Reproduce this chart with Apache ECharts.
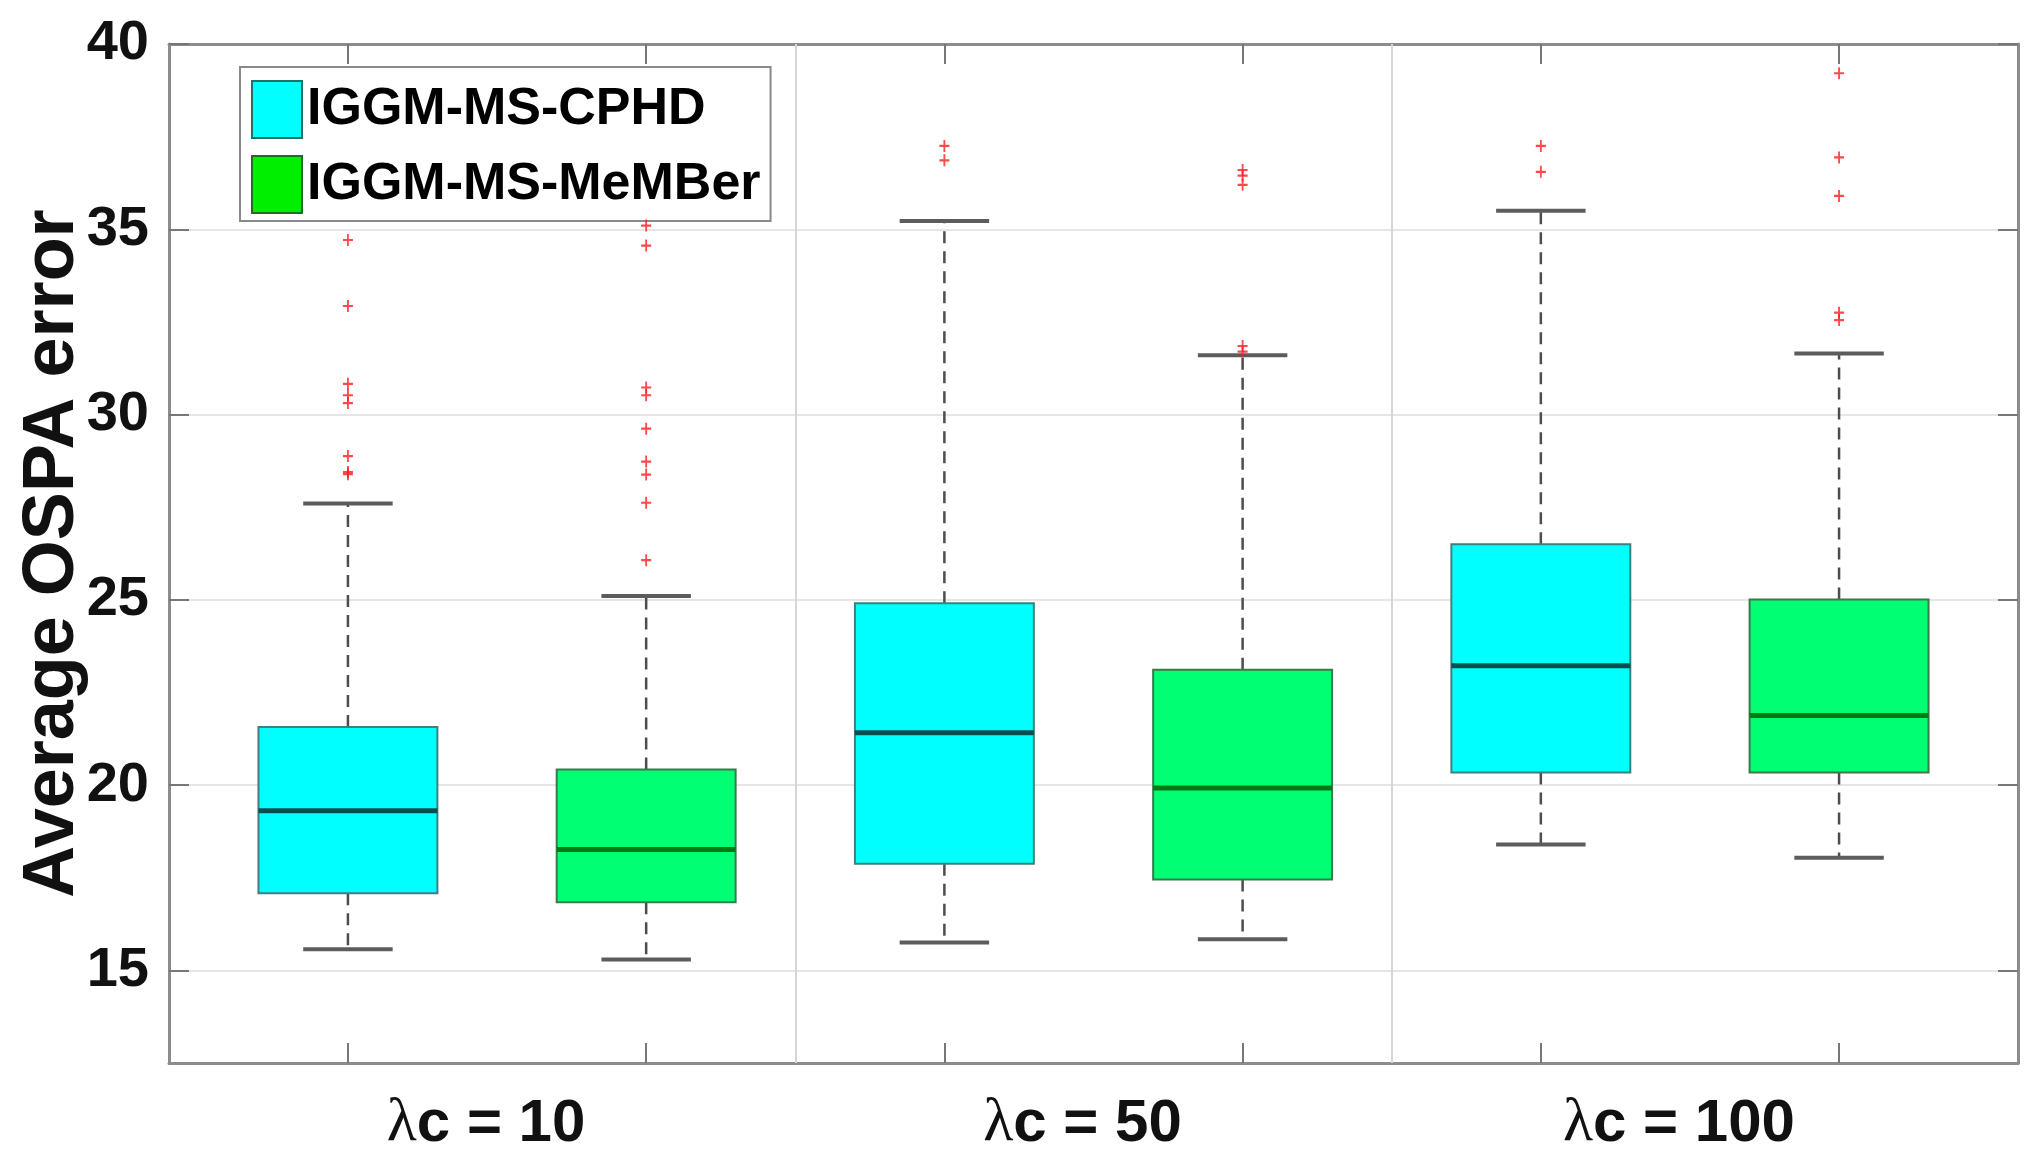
<!DOCTYPE html>
<html>
<head>
<meta charset="utf-8">
<title>Average OSPA error boxplot</title>
<script src="https://cdn.jsdelivr.net/npm/echarts@6/dist/echarts.min.js"></script>
<style>
  html, body { margin: 0; padding: 0; background: #fff; }
  #chart { width: 2041px; height: 1176px; }
</style>
</head>
<body>
<div id="chart"></div>
<script>
// group labels and method names
const groups = ['λc = 10', 'λc = 50', 'λc = 100'];
const methods = ['IGGM-MS-CPHD', 'IGGM-MS-MeMBer'];

// box positions on the x axis
const cphdPos = [1, 3, 5];
const memberPos = [2, 4, 6];
const groupCenters = [1.5, 3.5, 5.5];
const separators = [2.5, 4.5];

// [lower whisker, Q1, median, Q3, upper whisker] per group
const cphdStats = [
  [15.57, 17.08, 19.31, 21.57, 27.6],
  [15.75, 17.88, 21.41, 24.91, 35.22],
  [18.40, 20.34, 23.22, 26.50, 35.5]
];
const memberStats = [
  [15.29, 16.84, 18.26, 20.42, 25.1],
  [15.84, 17.45, 19.92, 23.11, 31.6],
  [18.04, 20.34, 21.88, 25.01, 31.65]
];

// outliers per group
const cphdOutliers = [
  [34.71, 32.93, 30.83, 30.52, 30.31, 28.88, 28.45, 28.39],
  [37.25, 36.86],
  [37.25, 36.55]
];
const memberOutliers = [
  [35.1, 34.56, 30.73, 30.52, 29.62, 28.73, 28.38, 27.62, 26.07],
  [36.6, 36.45, 36.2, 31.85, 31.7],
  [39.21, 36.94, 35.9, 32.75, 32.55]
];

const yTicks = [15, 20, 25, 30, 35, 40];

// ---- build data for the library ----
function boxData(pos, stats) {
  return stats.map((s, i) => [pos[i]].concat(s));
}
function outlierData(pos, outs) {
  const res = [];
  outs.forEach((list, i) => list.forEach(v => res.push([pos[i], v])));
  return res;
}

const FONT = 'Liberation Sans, Arial, sans-serif';

function makeRender(st) {
  return function (params, api) {
    const x = api.value(0);
    const lo = api.coord([x, api.value(1)]);
    const q1 = api.coord([x, api.value(2)]);
    const med = api.coord([x, api.value(3)]);
    const q3 = api.coord([x, api.value(4)]);
    const hi = api.coord([x, api.value(5)]);
    const bw = api.size([0.6, 0])[0];
    const cw = api.size([0.3, 0])[0];
    const cx = med[0];
    const dash = { stroke: '#4d4d4d', lineWidth: 2.5, lineDash: [12, 8] };
    const cap = { stroke: '#5c5c5c', lineWidth: 4 };
    return {
      type: 'group',
      children: [
        { type: 'line', shape: { x1: cx, y1: q3[1], x2: cx, y2: hi[1] }, style: dash },
        { type: 'line', shape: { x1: cx, y1: q1[1], x2: cx, y2: lo[1] }, style: dash },
        { type: 'line', shape: { x1: cx - cw / 2, y1: hi[1], x2: cx + cw / 2, y2: hi[1] }, style: cap },
        { type: 'line', shape: { x1: cx - cw / 2, y1: lo[1], x2: cx + cw / 2, y2: lo[1] }, style: cap },
        { type: 'rect', shape: { x: cx - bw / 2, y: q3[1], width: bw, height: q1[1] - q3[1] },
          style: { fill: st.fill, stroke: st.border, lineWidth: 2 } },
        { type: 'line', shape: { x1: cx - bw / 2, y1: med[1], x2: cx + bw / 2, y2: med[1] },
          style: { stroke: st.median, lineWidth: 5 } }
      ]
    };
  };
}

const styles = [
  { fill: '#00ffff', border: '#3f7f7f', median: '#064f4f' },
  { fill: '#00ff73', border: '#3a7a4a', median: '#007a14' }
];

const plus = 'path://M4.5,0H6.5V4.5H11V6.5H6.5V11H4.5V6.5H0V4.5H4.5Z';

const axisGray = '#8c8c8c';

const chart = echarts.init(document.getElementById('chart'));

const option = {
  backgroundColor: '#ffffff',
  animation: false,
  grid: { left: 169, right: 23, top: 44, bottom: 113 },
  legend: {
    orient: 'vertical',
    left: 240,
    top: 67,
    padding: [13, 10, 7, 11],
    itemGap: 16,
    itemWidth: 50,
    itemHeight: 57,
    backgroundColor: '#ffffff',
    borderColor: '#8a8a8a',
    borderWidth: 2,
    borderRadius: 0,
    textStyle: { fontFamily: FONT, fontWeight: 'bold', fontSize: 52, color: '#000', lineHeight: 57 },
    data: [
      { name: methods[0], icon: 'rect', itemStyle: { color: '#00ffff', borderColor: '#1f6f6f', borderWidth: 2 } },
      { name: methods[1], icon: 'rect', itemStyle: { color: '#00ee00', borderColor: '#1f6f1f', borderWidth: 2 } }
    ]
  },
  xAxis: [
    {
      type: 'value', position: 'bottom', min: 0.4, max: 6.6,
      axisLine: { show: true, lineStyle: { color: axisGray, width: 3 } },
      axisTick: { show: true, inside: true, length: 20, customValues: cphdPos.concat(memberPos),
        lineStyle: { color: '#777', width: 2 } },
      axisLabel: {
        customValues: groupCenters, margin: 30, padding: [0, 22, 0, 0],
        formatter: v => '{l|λ}c = ' + groups[Math.round((v - 1.5) / 2)].split('= ')[1],
        fontFamily: FONT, fontWeight: 'bold', fontSize: 60, color: '#111',
        rich: { l: { fontFamily: 'Liberation Serif, serif', fontWeight: 'normal', fontSize: 62, color: '#111' } }
      },
      splitLine: { show: false }
    },
    {
      type: 'value', position: 'top', min: 0.4, max: 6.6,
      axisLine: { show: true, lineStyle: { color: axisGray, width: 3 } },
      axisTick: { show: true, inside: true, length: 20, customValues: cphdPos.concat(memberPos),
        lineStyle: { color: '#777', width: 2 } },
      axisLabel: { show: false },
      splitLine: { show: false }
    }
  ],
  yAxis: [
    {
      type: 'value', position: 'left', min: 12.5, max: 40,
      name: 'Average OSPA error', nameLocation: 'middle', nameGap: 80, nameMoveOverlap: false,
      nameTextStyle: { fontFamily: FONT, fontWeight: 'bold', fontSize: 72, color: '#111' },
      axisLine: { show: true, lineStyle: { color: axisGray, width: 3 } },
      axisTick: { show: true, inside: true, length: 20, customValues: yTicks,
        lineStyle: { color: '#777', width: 2 } },
      axisLabel: { customValues: yTicks, margin: 20, fontFamily: FONT, fontWeight: 'bold', fontSize: 56, color: '#111' },
      splitLine: { show: true, lineStyle: { color: '#e6e6e6', width: 2 } }
    },
    {
      type: 'value', position: 'right', min: 12.5, max: 40,
      axisLine: { show: true, lineStyle: { color: axisGray, width: 3 } },
      axisTick: { show: true, inside: true, length: 20, customValues: yTicks,
        lineStyle: { color: '#777', width: 2 } },
      axisLabel: { show: false },
      splitLine: { show: false }
    }
  ],
  series: [
    {
      name: methods[0], type: 'custom', xAxisIndex: 0, yAxisIndex: 0,
      itemStyle: { color: '#00ffff' },
      renderItem: makeRender(styles[0]),
      encode: { x: 0, y: [1, 2, 3, 4, 5] },
      data: boxData(cphdPos, cphdStats),
      z: 3
    },
    {
      name: methods[1], type: 'custom', xAxisIndex: 0, yAxisIndex: 0,
      itemStyle: { color: '#00ee00' },
      renderItem: makeRender(styles[1]),
      encode: { x: 0, y: [1, 2, 3, 4, 5] },
      data: boxData(memberPos, memberStats),
      z: 3
    },
    {
      name: 'outliers', type: 'scatter', xAxisIndex: 0, yAxisIndex: 0,
      symbol: plus, symbolSize: [10, 12],
      itemStyle: { color: '#ff1a1a' },
      data: outlierData(cphdPos, cphdOutliers).concat(outlierData(memberPos, memberOutliers)),
      z: 4,
      markLine: {
        silent: true, symbol: ['none', 'none'], label: { show: false },
        lineStyle: { color: '#d6d6d6', type: 'solid', width: 2 },
        data: separators.map(s => ({ xAxis: s })),
        z: 1
      }
    }
  ]
};

chart.setOption(option);
</script>
</body>
</html>
